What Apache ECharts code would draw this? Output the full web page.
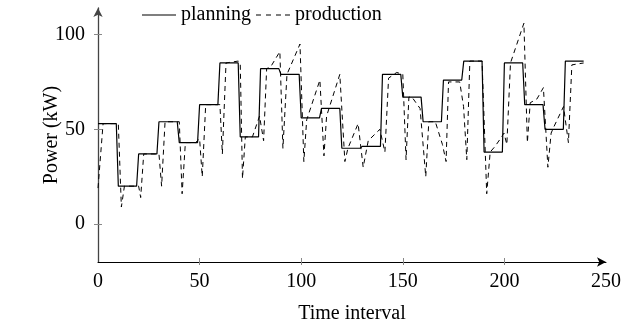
<!DOCTYPE html>
<html>
<head>
<meta charset="utf-8">
<script src="https://cdn.jsdelivr.net/npm/echarts@6/dist/echarts.min.js"></script>
<style>
html,body{margin:0;padding:0;background:#fff;}
#chart{width:641px;height:330px;}
</style>
</head>
<body>
<div id="chart"></div>
<script>
// Planned power level for each 10-step block of time intervals
var planBlockLength = 10;
var planLevels = [53, 20, 37, 54, 43, 63, 85, 46, 82, 79, 56, 61, 40, 41, 79, 67, 54, 76, 86, 38, 85, 63, 50, 86];

// Measured production (time interval, power kW)
var prodTime = [
  0, 2.5, 10, 11.5, 13, 20, 21, 22.5, 30, 31.3, 33, 40, 41.4, 43, 48, 50,
  51.3, 53, 60, 61.2, 63, 69, 70, 71.1, 72.5, 76, 79.5, 81.5, 83, 85, 89.5,
  91, 93, 99.4, 101.3, 102.7, 109.2, 111.2, 112.5, 119, 121.5, 123, 128,
  130.5, 133, 138.7, 141.2, 143, 147, 150, 151.6, 153, 154.5, 158.5,
  161.3, 162.8, 166, 169.5, 171.3, 172.5, 178, 179.9, 181.5, 183, 189,
  191.3, 193, 195.4, 198, 199.8, 201.2, 203, 209.6, 211.3, 212.7, 216, 219.2,
  221.4, 223, 224.2, 229.1, 231.5, 233.2, 239
];
var prodPower = [
  19, 53, 53, 9, 20, 20, 14, 37, 37, 20, 54, 54, 16, 43, 43, 45,
  25, 63, 63, 37, 85, 86, 85, 24, 46, 46, 57, 44, 82, 83, 91,
  40, 79, 95, 33, 55, 76, 36, 57, 79, 33, 40, 53,
  30, 44, 50, 38, 77, 80, 79, 34, 67, 67, 61,
  25, 54, 54, 42, 33, 75, 75, 62, 34, 86, 86,
  16, 38, 41, 45, 48, 42, 85, 106, 43, 64, 66, 72,
  30, 48, 51, 62, 43, 84, 85
];

var xTickLabels = [0, 50, 100, 150, 200, 250];
var xTickMarks = [50, 100, 150, 200];
var yTickLabels = [0, 50, 100];

var planData = [];
planLevels.forEach(function (v, k) {
  planData.push([k * planBlockLength, v]);
  planData.push([k * planBlockLength + planBlockLength - 1, v]);
});
var prodData = prodTime.map(function (t, i) { return [t, prodPower[i]]; });

var FONT = 'Liberation Serif';
var chart = echarts.init(document.getElementById('chart'), null, {renderer: 'canvas'});

var baseX = {
  type: 'value', min: 0, max: 250, position: 'bottom',
  splitLine: {show: false}
};
var baseY = {
  type: 'value', min: -20, max: 114, position: 'left',
  splitLine: {show: false}
};

var solidIcon = 'path://M0,0h34v1h-34z';
var dashIcon = 'path://M0,0h5v1h-5z M10,0h5v1h-5z M20,0h5v1h-5z M29,0h5v1h-5z';

chart.setOption({
  animation: false,
  backgroundColor: '#fff',
  textStyle: {fontFamily: FONT, color: '#000'},
  grid: {left: 98, right: 35, top: 8, bottom: 68, containLabel: false},
  legend: {
    left: 137, top: 0,
    itemWidth: 34, itemHeight: 1.3, itemGap: 5,
    textStyle: {fontFamily: FONT, fontSize: 20, color: '#000', padding: [0, 0, 0, 0]},
    data: [
      {name: 'planning', icon: solidIcon, itemStyle: {color: '#000'}},
      {name: 'production', icon: dashIcon, itemStyle: {color: '#000'}}
    ]
  },
  xAxis: [
    Object.assign({}, baseX, {
      name: 'Time interval', nameLocation: 'middle', nameGap: 42,
      nameTextStyle: {fontFamily: FONT, fontSize: 20, color: '#000'},
      axisLine: {show: true, onZero: false, symbol: ['none', 'arrow'], symbolSize: [7, 9],
        lineStyle: {color: '#000', width: 1}},
      axisTick: {show: true, inside: false, length: 3, customValues: xTickMarks,
        lineStyle: {color: '#888', width: 1}},
      axisLabel: {show: true, margin: 10, customValues: xTickLabels,
        fontFamily: FONT, fontSize: 20, color: '#000'}
    }),
    Object.assign({}, baseX, {
      axisLine: {show: false, onZero: false},
      axisTick: {show: true, inside: true, length: 4, customValues: xTickMarks,
        lineStyle: {color: '#888', width: 1}},
      axisLabel: {show: false}
    })
  ],
  yAxis: [
    Object.assign({}, baseY, {
      name: 'Power (kW)', nameLocation: 'middle', nameGap: 36, nameRotate: 90,
      nameMoveOverlap: false,
      nameTextStyle: {fontFamily: FONT, fontSize: 20, color: '#000'},
      axisLine: {show: true, onZero: false, symbol: ['none', 'arrow'], symbolSize: [7, 9],
        lineStyle: {color: '#444', width: 1.3}},
      axisTick: {show: true, inside: false, length: 4, customValues: yTickLabels,
        lineStyle: {color: '#888', width: 1}},
      axisLabel: {show: true, margin: 13, customValues: yTickLabels,
        fontFamily: FONT, fontSize: 20, color: '#000'}
    }),
    Object.assign({}, baseY, {
      axisLine: {show: false, onZero: false},
      axisTick: {show: true, inside: true, length: 4, customValues: yTickLabels,
        lineStyle: {color: '#888', width: 1}},
      axisLabel: {show: false}
    })
  ],
  series: [
    {
      name: 'planning', type: 'line', xAxisIndex: 0, yAxisIndex: 0,
      data: planData, showSymbol: false, symbol: 'none',
      lineStyle: {color: '#000', width: 1.2, type: 'solid'},
      itemStyle: {color: '#000'}, z: 3
    },
    {
      name: 'production', type: 'line', xAxisIndex: 0, yAxisIndex: 0,
      data: prodData, showSymbol: false, symbol: 'none',
      lineStyle: {color: '#000', width: 1, type: [5, 4]},
      itemStyle: {color: '#000'}, z: 4
    }
  ]
});
</script>
</body>
</html>
